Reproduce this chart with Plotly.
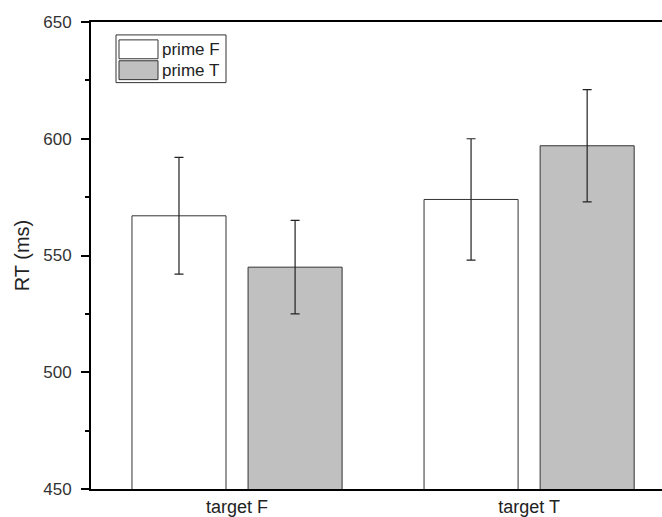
import plotly.graph_objects as go

categories = ["target F", "target T"]
series_names = ["prime F", "prime T"]
prime_F = [567, 574]
prime_F_err = [25, 26]
prime_T = [545, 597]
prime_T_err = [20, 24]
colors = ["#ffffff", "#c0c0c0"]
y_ticks = [450, 500, 550, 600, 650]

W, H = 662, 517
L, T, B, R = 91, 22, 25, 0
PW, PH = W - L - R, H - T - B

fig = go.Figure()
for name, vals, errs, col in [(series_names[0], prime_F, prime_F_err, colors[0]),
                              (series_names[1], prime_T, prime_T_err, colors[1])]:
    fig.add_trace(go.Bar(
        x=categories, y=vals, name=name, base=0,
        marker=dict(color=col, line=dict(color="#333333", width=1)),
        error_y=dict(type="data", array=errs, color="#222222", thickness=1.2, width=4.5),
        showlegend=False,
    ))

fig.update_layout(
    width=W, height=H,
    margin=dict(l=L, r=R, t=T, b=B),
    paper_bgcolor="white", plot_bgcolor="white",
    barmode="group", bargap=0.205, bargroupgap=0.19,
    font=dict(family="Liberation Sans, Arial", color="#333333"),
    xaxis=dict(range=[-0.5, 1.455], showline=True, linecolor="black", linewidth=2,
               mirror=True, ticks="", showgrid=False, zeroline=False,
               tickfont=dict(size=18, color="#222222")),
    yaxis=dict(range=[450, 650], tickvals=y_ticks, showline=True, linecolor="black",
               linewidth=2, ticks="outside", ticklen=8, tickwidth=2, tickcolor="black",
               showgrid=False, zeroline=False, tickfont=dict(size=17, color="#333333"),
               ticklabelstandoff=6,
               minor=dict(dtick=25, ticks="outside", ticklen=4, tickwidth=2, tickcolor="black"),
               title=dict(text="RT (ms)", font=dict(size=20, color="#222222"), standoff=8)),
)

def px2paper(px, py):
    return (px - L) / PW, (H - B - py) / PH

# custom legend
x0, y0 = px2paper(116, 35)
x1, y1 = px2paper(226, 83)
fig.add_shape(type="rect", xref="paper", yref="paper", x0=x0, y0=y1, x1=x1, y1=y0,
              line=dict(color="#333333", width=1), fillcolor="white")
for i, (name, col) in enumerate(zip(series_names, colors)):
    top = 40 + i * 21
    sx0, sy0 = px2paper(119, top)
    sx1, sy1 = px2paper(158, top + 19)
    fig.add_shape(type="rect", xref="paper", yref="paper", x0=sx0, y0=sy1, x1=sx1, y1=sy0,
                  line=dict(color="#333333", width=1), fillcolor=col)
    tx, ty = px2paper(160, top + 9.5)
    fig.add_annotation(xref="paper", yref="paper", x=tx, y=ty, text=name, showarrow=False,
                       xanchor="left", yanchor="middle", font=dict(size=17, color="#222222"))

fig.write_html("out.html", config={"displayModeBar": False},
               post_script="document.body.style.margin='0';")
